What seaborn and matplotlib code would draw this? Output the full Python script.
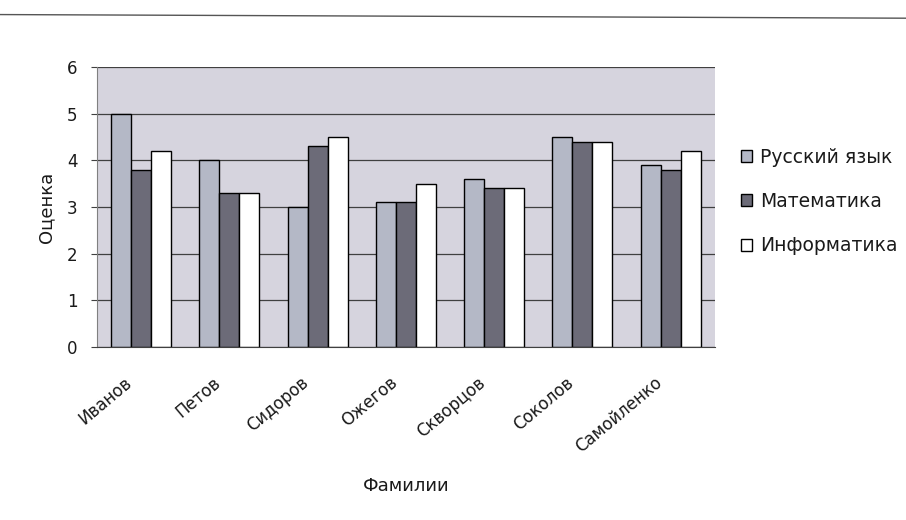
import pandas as pd
import matplotlib.pyplot as plt
import matplotlib.transforms as mtransforms
import seaborn as sns

# data
students = ['Иванов', 'Петов', 'Сидоров', 'Ожегов', 'Скворцов', 'Соколов', 'Самойленко']
russian = [5.0, 4.0, 3.0, 3.1, 3.6, 4.5, 3.9]
math = [3.8, 3.3, 4.3, 3.1, 3.4, 4.4, 3.8]
informatics = [4.2, 3.3, 4.5, 3.5, 3.4, 4.4, 4.2]
subjects = ['Русский язык', 'Математика', 'Информатика']

df = pd.DataFrame({'Фамилии': students, subjects[0]: russian,
                   subjects[1]: math, subjects[2]: informatics})
df_long = df.melt(id_vars='Фамилии', var_name='Предмет', value_name='Оценка')

color_map = {'Русский язык': '#b4b8c6', 'Математика': '#6c6b78', 'Информатика': '#ffffff'}

sns.set_style('white')
plt.rcParams['font.family'] = ['DejaVu Sans']
plt.rcParams['text.color'] = '#1a1a1a'
plt.rcParams['axes.labelcolor'] = '#1a1a1a'

fig = plt.figure(figsize=(9.06, 5.2), dpi=100)
ax = fig.add_axes([0.107, 0.333, 0.682, 0.538])
ax.set_facecolor('#d6d4de')

sns.barplot(data=df_long, x='Фамилии', y='Оценка', hue='Предмет', palette=color_map,
            width=0.68, edgecolor='black', linewidth=1, saturation=1, ax=ax, legend=True)

ax.set_ylim(0, 6)
ax.set_yticks(range(0, 7))
ax.yaxis.grid(True, color='#404040', linewidth=0.9)
ax.set_axisbelow(True)
for side in ['top', 'right']:
    ax.spines[side].set_visible(False)
ax.spines['left'].set_color('#808080')
ax.spines['bottom'].set_color('#404040')
ax.tick_params(axis='y', length=4, labelsize=12, color='#404040', labelcolor='#1a1a1a',
               left=True, pad=10)
ax.tick_params(axis='x', length=0, labelsize=12, labelcolor='#1a1a1a')

# rotated family names, shifted left/down as in the original
offset = mtransforms.ScaledTranslation(-0.17, -0.22, fig.dpi_scale_trans)
for lbl in ax.get_xticklabels():
    lbl.set_rotation(40)
    lbl.set_ha('right')
    lbl.set_rotation_mode('anchor')
    lbl.set_transform(lbl.get_transform() + offset)

ax.set_xlabel('Фамилии', fontsize=13, labelpad=15)
ax.set_ylabel('Оценка', fontsize=13, labelpad=8)

ax.legend(loc='center left', bbox_to_anchor=(1.015, 0.52), frameon=False,
          fontsize=13.5, handlelength=0.6, handleheight=0.6, labelspacing=1.35,
          handletextpad=0.4)

# thin line across the top like the scanned page
fig.add_artist(plt.Line2D([0, 1], [0.972, 0.965], color='#555555', linewidth=1))

fig.savefig('out.png', dpi=100)
